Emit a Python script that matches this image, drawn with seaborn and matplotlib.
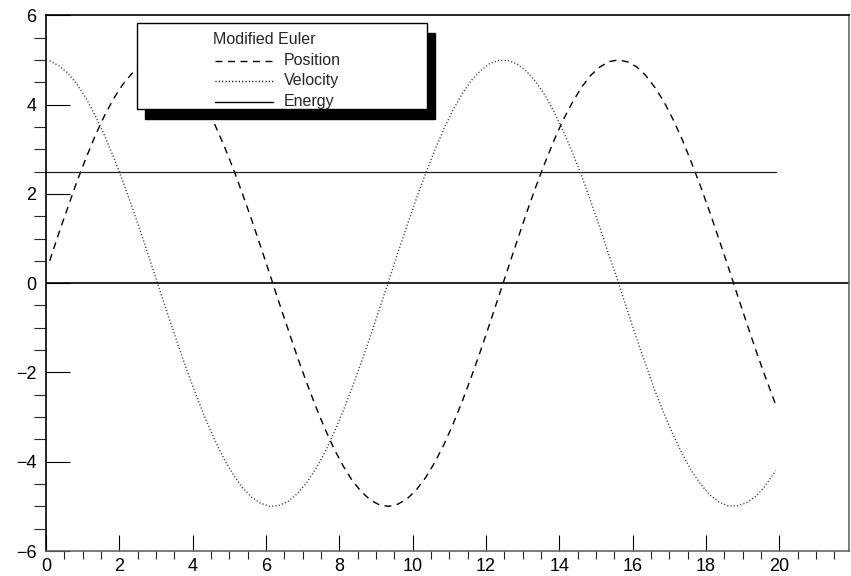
import matplotlib
matplotlib.use("Agg")
import matplotlib.pyplot as plt
import seaborn as sns
from matplotlib.patches import Rectangle
from matplotlib.lines import Line2D
from matplotlib.ticker import MultipleLocator

# values (Modified Euler run)
time = [0.1, 0.35, 0.6, 0.85, 1.1, 1.35, 1.6, 1.85, 2.1, 2.35,
        2.6, 2.85, 3.1, 3.35, 3.6, 3.85, 4.1, 4.35, 4.6, 4.85,
        5.1, 5.35, 5.6, 5.85, 6.1, 6.35, 6.6, 6.85, 7.1, 7.35,
        7.6, 7.85, 8.1, 8.35, 8.6, 8.85, 9.1, 9.35, 9.6, 9.85,
        10.1, 10.35, 10.6, 10.85, 11.1, 11.35, 11.6, 11.85, 12.1, 12.35,
        12.6, 12.85, 13.1, 13.35, 13.6, 13.85, 14.1, 14.35, 14.6, 14.85,
        15.1, 15.35, 15.6, 15.85, 16.1, 16.35, 16.6, 16.85, 17.1, 17.35,
        17.6, 17.85, 18.1, 18.35, 18.6, 18.85, 19.1, 19.35, 19.6, 19.9]
position = [0.50, 1.12, 1.71, 2.29, 2.82, 3.32, 3.76, 4.14, 4.46, 4.70,
            4.88, 4.98, 5.00, 4.94, 4.81, 4.60, 4.32, 3.97, 3.56, 3.09,
            2.58, 2.02, 1.44, 0.83, 0.21, -0.42, -1.03, -1.64, -2.21, -2.75,
            -3.25, -3.70, -4.09, -4.42, -4.67, -4.86, -4.97, -5.00, -4.95, -4.83,
            -4.63, -4.36, -4.02, -3.62, -3.16, -2.65, -2.10, -1.52, -0.91, -0.29,
            0.33, 0.95, 1.56, 2.14, 2.68, 3.19, 3.65, 4.04, 4.38, 4.65,
            4.84, 4.96, 5.00, 4.96, 4.85, 4.66, 4.39, 4.07, 3.67, 3.22,
            2.71, 2.17, 1.60, 0.99, 0.38, -0.25, -0.87, -1.48, -2.06, -2.72]
velocity = [4.98, 4.87, 4.70, 4.45, 4.13, 3.74, 3.30, 2.81, 2.27, 1.70,
            1.10, 0.48, -0.15, -0.77, -1.38, -1.97, -2.52, -3.04, -3.51, -3.93,
            -4.28, -4.57, -4.79, -4.93, -5.00, -4.98, -4.89, -4.72, -4.48, -4.17,
            -3.80, -3.36, -2.87, -2.34, -1.77, -1.18, -0.56, 0.06, 0.69, 1.30,
            1.89, 2.45, 2.97, 3.45, 3.88, 4.24, 4.54, 4.76, 4.92, 4.99,
            4.99, 4.91, 4.75, 4.52, 4.22, 3.85, 3.42, 2.94, 2.42, 1.85,
            1.26, 0.64, 0.04, -0.60, -1.22, -1.81, -2.39, -2.91, -3.39, -3.82,
            -4.20, -4.50, -4.74, -4.90, -4.99, -4.99, -4.92, -4.78, -4.56, -4.20]
energy_time = [0.0, 19.9]
energy = [2.5, 2.5]

legend_title = "Modified Euler"
legend_labels = ["Position", "Velocity", "Energy"]

sns.set_style("ticks")
plt.rcParams["font.family"] = ["Liberation Sans", "DejaVu Sans"]

W, H = 851, 576
fig = plt.figure(figsize=(W / 100, H / 100), dpi=100)
ax = fig.add_axes([46 / W, 25 / H, (849 - 46) / W, (551 - 15.3) / H])

dash_style = (0, (5, 4))
dot_style = (0, (0.8, 1.6))

sns.lineplot(x=time, y=position, ax=ax, color="black", lw=1, linestyle=dash_style,
             sort=False, errorbar=None)
sns.lineplot(x=time, y=velocity, ax=ax, color="#333333", lw=1, linestyle=dot_style,
             sort=False, errorbar=None)
sns.lineplot(x=energy_time, y=energy, ax=ax, color="#222222", lw=0.9,
             sort=False, errorbar=None)
ax.axhline(0, color="black", lw=1.2)

ax.set_xlim(0, 21.9)
ax.set_ylim(-6, 6)
ax.set_xticks(range(0, 21, 2))
ax.set_yticks(range(-6, 7, 2))
ax.xaxis.set_minor_locator(MultipleLocator(0.5))
ax.yaxis.set_minor_locator(MultipleLocator(0.5))
ax.tick_params(axis="both", direction="in", labelsize=13, colors="black", width=0.8)
ax.tick_params(axis="x", which="major", length=11.5, pad=5, top=False)
ax.tick_params(axis="x", which="minor", length=5.8, width=0.8, top=False)
ax.tick_params(axis="y", which="major", length=17, pad=7, right=False)
ax.tick_params(axis="y", which="minor", length=8.6, width=0.8, right=False)
ax.set_xlabel("")
ax.set_ylabel("")

for side in ["left", "top"]:
    ax.spines[side].set_color("black")
    ax.spines[side].set_linewidth(1.2)
for side in ["bottom", "right"]:
    ax.spines[side].set_color("#666666")
    ax.spines[side].set_linewidth(1.2)
    ax.spines[side].set_visible(True)
ax.spines["top"].set_visible(True)


def fxy(px, py):
    return px / W, 1 - py / H


# legend box with a solid shadow, drawn like the original
x0, y0, x1, y1 = 137, 23, 427, 109
sx, sy = 8, 10
fig.add_artist(Rectangle(fxy(x0 + sx, y1 + sy), (x1 - x0) / W, (y1 - y0) / H,
                         transform=fig.transFigure, facecolor="black",
                         edgecolor="black", zorder=5))
fig.add_artist(Rectangle(fxy(x0, y1), (x1 - x0) / W, (y1 - y0) / H,
                         transform=fig.transFigure, facecolor="white",
                         edgecolor="black", lw=1, zorder=6))
fig.text(*fxy(213, 39), legend_title, fontsize=11.5, va="center", ha="left", zorder=7)
styles = [dash_style, dot_style, "-"]
for i, (lab, ls) in enumerate(zip(legend_labels, styles)):
    yc = 60.5 + i * 20.5
    xa, ya = fxy(215, yc)
    xb, _ = fxy(273, yc)
    fig.add_artist(Line2D([xa, xb], [ya, ya], transform=fig.transFigure,
                          color="black", lw=1, linestyle=ls, zorder=7))
    fig.text(*fxy(284, yc), lab, fontsize=11.5, va="center", ha="left", zorder=7)

fig.savefig("out.png", dpi=100)
